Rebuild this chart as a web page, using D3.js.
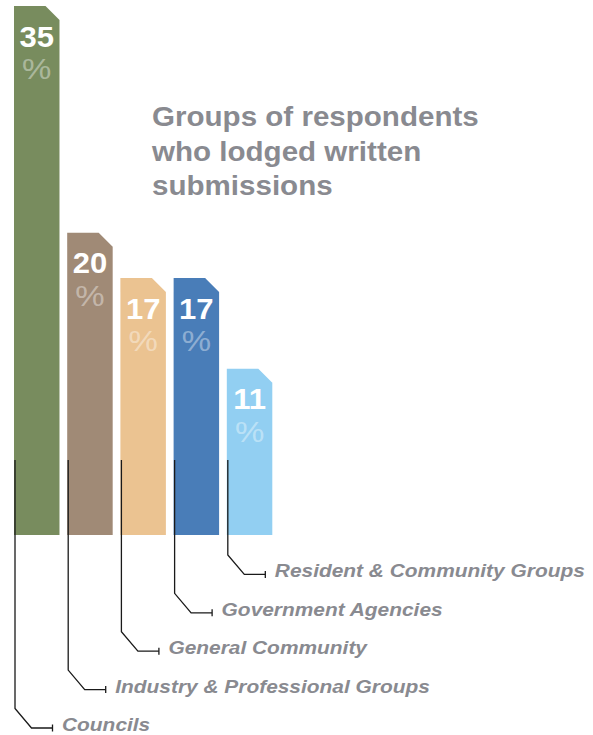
<!DOCTYPE html>
<html>
<head>
<meta charset="utf-8">
<script src="https://cdn.jsdelivr.net/npm/d3@7"></script>
<style>
  html, body { margin: 0; padding: 0; background: #fff; }
  svg { display: block; }
</style>
</head>
<body>
<svg id="chart" width="593" height="735"></svg>
<script>
// ---- data ----
const categories = ["Councils", "Industry & Professional Groups", "General Community", "Government Agencies", "Resident & Community Groups"];
const values = [35, 20, 17, 17, 11];
const colors = ["#788c5e", "#a08a76", "#ebc391", "#497db8", "#92cff2"];
const titleLines = ["Groups of respondents", "who lodged written", "submissions"];

const W = 593, H = 735;
const svg = d3.select("#chart");

const x = d3.scaleBand()
  .domain(categories)
  .range([14, 272.3])
  .paddingInner(0.145)
  .paddingOuter(0);

const y = d3.scaleLinear().domain([0, 35]).range([535, 6]);

const bw = x.bandwidth();
const cut = 14;

// bars with cut top-right corner
const g = svg.append("g");
const bars = g.selectAll("g.bar").data(categories).enter().append("g").attr("class", "bar");

bars.append("path")
  .attr("d", (d, i) => {
    const x0 = x(d), x1 = x0 + bw, yt = y(values[i]), yb = y(0);
    return `M${x0},${yb}L${x0},${yt}L${x1 - cut},${yt}L${x1},${yt + cut}L${x1},${yb}Z`;
  })
  .attr("fill", (d, i) => colors[i]);

bars.append("text")
  .attr("transform", (d, i) => `translate(${x(d) + bw / 2},${y(values[i]) + 40.5}) scale(1.07,1)`)
  .attr("text-anchor", "middle")
  .attr("font-family", "Liberation Sans, Arial, sans-serif")
  .attr("font-weight", "bold")
  .attr("font-size", 29)
  .attr("fill", "#fff")
  .text((d, i) => values[i]);

bars.append("text")
  .attr("transform", (d, i) => `translate(${x(d) + bw / 2},${y(values[i]) + 73}) scale(1.1,1)`)
  .attr("text-anchor", "middle")
  .attr("font-family", "Liberation Sans, Arial, sans-serif")
  .attr("font-size", 30)
  .attr("fill", "rgba(255,255,255,0.4)")
  .text("%");

// leader lines
const lineTop = 460;
const firstEnd = 708.5, stepEnd = 38.4;
const leaders = svg.append("g");
categories.forEach((d, i) => {
  const lx = x(d) + 1;
  const yEnd = firstEnd - stepEnd * i;
  const yH = yEnd + 19.5;
  const xD = lx + 16.5;
  const xE = lx + 37.5;
  leaders.append("path")
    .attr("d", `M${lx},${lineTop}L${lx},${yEnd}L${xD},${yH}L${xE},${yH}`)
    .attr("fill", "none")
    .attr("stroke", "#1a1a1a")
    .attr("stroke-width", 1.3);
  leaders.append("line")
    .attr("x1", xE).attr("x2", xE)
    .attr("y1", yH - 3.5).attr("y2", yH + 3.5)
    .attr("stroke", "#1a1a1a")
    .attr("stroke-width", 1.3);
  leaders.append("text")
    .attr("transform", `translate(${lx + 47},${yH + 3}) scale(1.1,1)`)
    .attr("font-family", "Liberation Sans, Arial, sans-serif")
    .attr("font-weight", "bold")
    .attr("font-style", "italic")
    .attr("font-size", 19)
    .attr("fill", "#898a90")
    .text(d);
});

// title
svg.append("g").selectAll("text").data(titleLines).enter().append("text")
  .attr("transform", (d, i) => `translate(152,${126 + i * 34.5}) scale(1.095,1)`)
  .attr("font-family", "Liberation Sans, Arial, sans-serif")
  .attr("font-weight", "bold")
  .attr("font-size", 27)
  .attr("fill", "#898a90")
  .text(d => d);
</script>
</body>
</html>
